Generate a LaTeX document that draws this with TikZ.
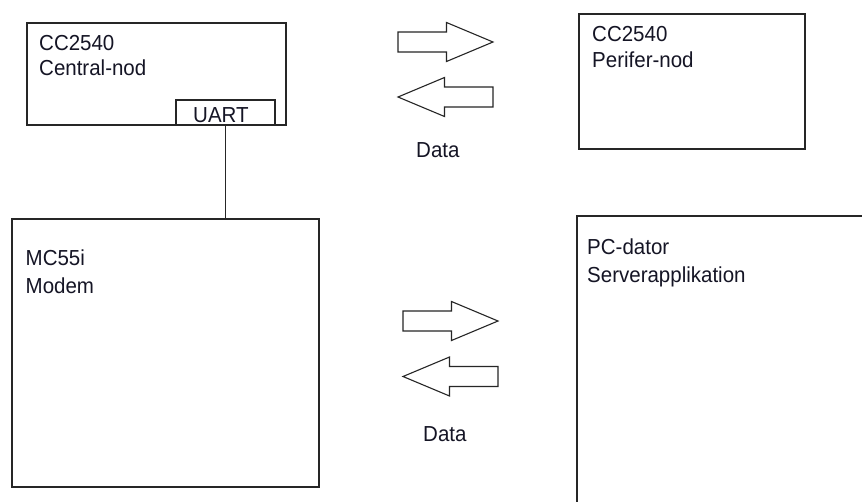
\documentclass[tikz,border=0pt]{standalone}
\usepackage{fontspec}
\setmainfont{Liberation Sans}
\definecolor{edge}{HTML}{262626}
\definecolor{ink}{HTML}{151525}
\begin{document}
\begin{tikzpicture}[x=1pt,y=-1pt,
  box/.style={draw=edge, line width=1.5pt, inner sep=0pt, anchor=north west, fill=white},
  lbl/.style={anchor=base west, inner sep=0pt, text=ink, yscale=1.06, font=\fontsize{20.5}{26}\selectfont},
  link/.style={draw=edge, line width=1.5pt},
  blockright/.pic={\draw[draw=edge, line width=1.1pt, fill=white]
      (0,-10) -- (48.5,-10) -- (48.5,-19.5) -- (95,0) -- (48.5,19.5) -- (48.5,10) -- (0,10) -- cycle;},
  blockleft/.pic={\draw[draw=edge, line width=1.1pt, fill=white]
      (0,-10) -- (-48.5,-10) -- (-48.5,-19.5) -- (-95,0) -- (-48.5,19.5) -- (-48.5,10) -- (0,10) -- cycle;}
]
\useasboundingbox[fill=white] (0,0) rectangle (862,501);

% boxes
\node[box, minimum width=259pt, minimum height=102pt] (central) at (26,22) {};
\node[box, minimum width=99pt, minimum height=25pt] (uart) at (175,99) {};
\node[box, minimum width=307pt, minimum height=268pt] (modem) at (11,218) {};
\node[box, minimum width=226pt, minimum height=135pt] (perifer) at (578,13) {};
\begin{scope}
  \clip (0,0) rectangle (862,501);
  \node[box, minimum width=320pt, minimum height=320pt] (pc) at (576,215) {};
\end{scope}

% texts
\node[lbl] (c1) at (39,50) {CC2540};
\node[lbl] (c2) at (39,75) {Central-nod};
\node[lbl] (u1) at (193,122) {UART};
\node[lbl] (p1) at (592,41) {CC2540};
\node[lbl] (p2) at (592,67.5) {Perifer-nod};
\node[lbl] (m1) at (25.5,265) {MC55i};
\node[lbl] (m2) at (25.5,293) {Modem};
\node[lbl] (s1) at (587,254) {PC-dator};
\node[lbl] (s2) at (587,282) {Serverapplikation};
\node[lbl] (d1) at (416,157) {Data};
\node[lbl] (d2) at (423,441) {Data};

% connector UART -> modem
\draw[link] (uart.south) -- (uart.south |- modem.north);

% block arrows
\pic at (398,42) {blockright};
\pic at (493,97) {blockleft};
\pic at (403,321) {blockright};
\pic at (498,376.5) {blockleft};
\end{tikzpicture}
\end{document}
